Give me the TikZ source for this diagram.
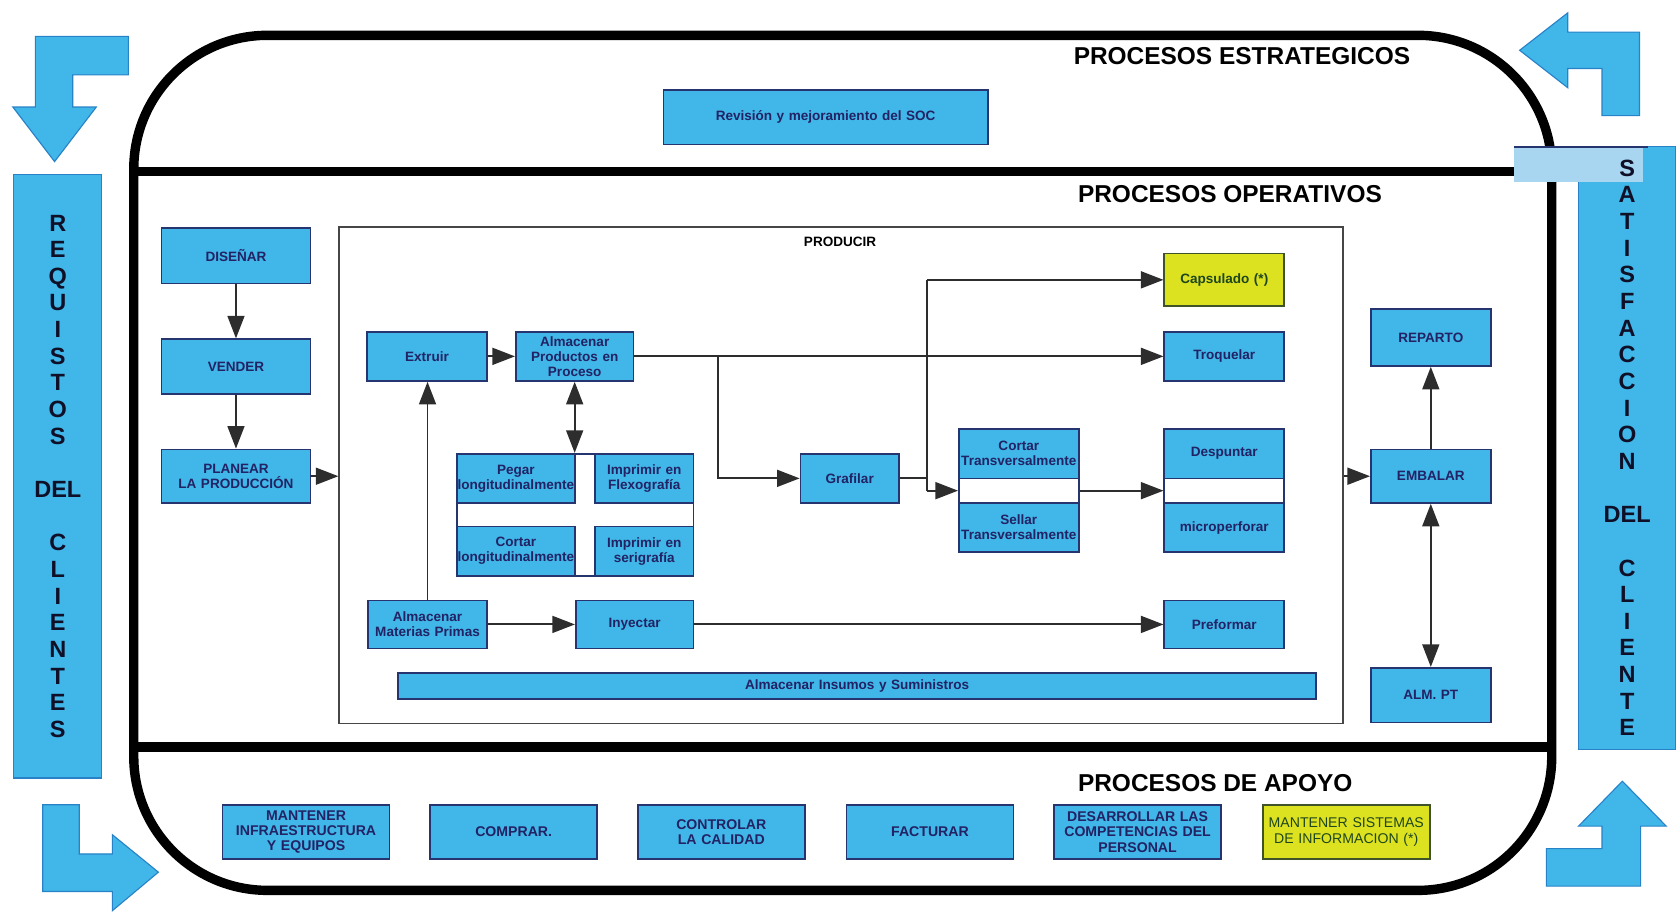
\documentclass[tikz,border=0pt]{standalone}
\usepackage{fontspec}
\setmainfont{Liberation Sans}
\usetikzlibrary{arrows.meta}

\definecolor{procblue}{RGB}{64,183,232}
\definecolor{boxline}{RGB}{38,52,112}
\definecolor{boxtext}{RGB}{34,34,100}
\definecolor{procyellow}{RGB}{221,226,32}
\definecolor{yellowline}{RGB}{62,84,40}
\definecolor{yellowtext}{RGB}{30,70,30}
\definecolor{bandblue}{RGB}{168,214,240}
\definecolor{framegray}{RGB}{70,70,70}
\definecolor{linkgray}{RGB}{45,45,45}
\definecolor{arrowedge}{RGB}{40,130,200}
\definecolor{sidetext}{RGB}{15,15,40}

\tikzset{
  x=0.02cm, y=-0.02cm,
  box/.style={draw=boxline, fill=procblue, line width=0.9pt, align=center,
    text=boxtext, font=\fontsize{7.2}{8}\selectfont\bfseries, inner ysep=0pt},
  bigbox/.style={font=\fontsize{7.5}{8.1}\selectfont\bfseries},
  yel/.style={fill=procyellow, draw=yellowline, text=yellowtext},
  stackgroup/.style={fill=white},
  prodframe/.style={fill=none, draw=framegray, line width=0.9pt},
  sidebox/.style={draw=arrowedge, line width=0.6pt, text=sidetext,
    font=\fontsize{12.5}{14.17}\selectfont\bfseries},
  sidelabel/.style={align=center, text=sidetext, inner sep=0pt,
    font=\fontsize{12.5}{14.17}\selectfont\bfseries},
  title/.style={font=\fontsize{13}{15}\selectfont\bfseries, inner sep=0pt, anchor=west},
  link/.style={draw=linkgray, line width=1pt},
  arr/.style={link, -{Triangle[length=12pt,width=9pt]}},
  dbl/.style={link, {Triangle[length=12pt,width=9pt]}-{Triangle[length=12pt,width=9pt]}},
  outline/.style={line width=5pt, line join=round},
  blockarrow/.style={fill=procblue, draw=arrowedge, line width=0.6pt},
}

% box given by its corners (x1,y1) (x2,y2) in layout units
\newcommand\procbox[7][]{%
  \pgfmathsetmacro\bw{(#5-#3)*0.02}%
  \pgfmathsetmacro\bh{(#6-#4)*0.02}%
  \pgfmathsetmacro\bt{\bw+0.6}%
  \node[box,#1,minimum width=\bw cm,minimum height=\bh cm,
        text width=\bt cm,inner xsep=-0.3cm] (#2) at ({(#3+#5)/2},{(#4+#6)/2}) {#7};}

\begin{document}
\begin{tikzpicture}
\useasboundingbox (0,0) rectangle (1568,854);

% process map outline and section dividers
\draw[outline, rounded corners=2.5cm] (125,33) rectangle (1450,832);
\draw[outline] (125,160) -- (1415,160);
\draw[outline] (125,698) -- (1450,698);

% section titles
\node[title] (tEst) at (1003,52) {PROCESOS ESTRATEGICOS};
\node[title] (tOpe) at (1007,181) {PROCESOS OPERATIVOS};
\node[title] (tApo) at (1007,732) {PROCESOS DE APOYO};

% customer columns
\procbox[sidebox]{req}{13}{163}{95}{727}{R\\E\\Q\\U\\I\\S\\T\\O\\S\\[14.2pt]DEL\\[14.2pt]C\\L\\I\\E\\N\\T\\E\\S}
\procbox[sidebox]{sat}{1475}{137}{1566}{700}{}
\fill[bandblue] (1415,137) rectangle (1535,170);
\draw[boxline, line width=1pt] (1415,137) -- (1540,137);
\node[sidelabel] (satlbl) at (sat.center) {S\\A\\T\\I\\S\\F\\A\\C\\C\\I\\O\\N\\[14.2pt]DEL\\[14.2pt]C\\L\\I\\E\\N\\T\\E};

% block arrows in the corners
\draw[blockarrow] (120,34) -- (33,34) -- (33,100) -- (12,100) -- (51,151) -- (90,100)
  -- (68,100) -- (68,70) -- (120,70) -- cycle;
\draw[blockarrow] (40,752) -- (74,752) -- (74,798) -- (105,798) -- (105,780) -- (148,815)
  -- (105,851) -- (105,833) -- (40,833) -- cycle;
\draw[blockarrow] (1532,30) -- (1532,108) -- (1497,108) -- (1497,64) -- (1465,64)
  -- (1465,82) -- (1420,47) -- (1465,12) -- (1465,30) -- cycle;
\draw[blockarrow] (1445,828) -- (1533,828) -- (1533,772) -- (1557,772) -- (1516,730)
  -- (1475,772) -- (1497,772) -- (1497,793) -- (1445,793) -- cycle;

% strategic process
\procbox{rev}{620}{84}{923}{135}{Revisión y mejoramiento del SOC}

% operative processes
\procbox{dis}{151}{213}{290}{265}{DISEÑAR}
\procbox{ven}{151}{317}{290}{368}{VENDER}
\procbox{pla}{151}{420}{290}{470}{PLANEAR\\LA PRODUCCIÓN}

\procbox[prodframe]{prod}{317}{212}{1255}{676}{}
\node[font=\fontsize{7.2}{8}\selectfont\bfseries, inner sep=0pt] (prodlbl) at (785,226) {PRODUCIR};

\procbox{ext}{343}{310}{455}{356}{Extruir}
\procbox{app}{482}{310}{592}{356}{Almacenar\\Productos en\\Proceso}
\procbox[yel]{cap}{1088}{237}{1200}{286}{Capsulado (*)}
\procbox{tro}{1088}{310}{1200}{356}{Troquelar}

\procbox[stackgroup]{grid}{427}{424}{648}{538}{}
\procbox{peg}{427}{424}{537}{470}{Pegar\\longitudinalmente}
\procbox{fle}{556}{424}{648}{470}{Imprimir en\\Flexografía}
\procbox{clo}{427}{492}{537}{538}{Cortar\\longitudinalmente}
\procbox{ser}{556}{492}{648}{538}{Imprimir en\\serigrafía}

\procbox{gra}{748}{424}{840}{470}{Grafilar}

\procbox[stackgroup]{cs}{896}{401}{1008}{516}{}
\procbox{ctr}{896}{401}{1008}{447}{Cortar\\Transversalmente}
\procbox{str}{896}{470}{1008}{516}{Sellar\\Transversalmente}

\procbox[stackgroup]{dm}{1088}{401}{1200}{516}{}
\procbox{des}{1088}{401}{1200}{447}{Despuntar}
\procbox{mic}{1088}{470}{1200}{516}{microperforar}

\procbox{amp}{344}{561}{455}{606}{Almacenar\\Materias Primas}
\procbox{iny}{538}{561}{648}{606}{Inyectar}
\procbox{pre}{1088}{561}{1200}{606}{Preformar}
\procbox{ins}{372}{629}{1230}{653}{Almacenar Insumos y Suministros}

\procbox{rep}{1281}{289}{1393}{342}{REPARTO}
\procbox{emb}{1281}{420}{1393}{470}{EMBALAR}
\procbox{apt}{1281}{624}{1393}{675}{ALM. PT}

% support processes
\procbox[bigbox]{m1}{208}{752}{364}{803}{MANTENER\\INFRAESTRUCTURA\\Y EQUIPOS}
\procbox[bigbox]{m2}{402}{752}{558}{803}{COMPRAR.}
\procbox[bigbox]{m3}{596}{752}{752}{803}{CONTROLAR\\LA CALIDAD}
\procbox[bigbox]{m4}{791}{752}{947}{803}{\raisebox{-3pt}{FACTURAR}}
\procbox[bigbox]{m5}{985}{752}{1141}{803}{DESARROLLAR LAS\\COMPETENCIAS DEL\\PERSONAL}
\procbox[bigbox,yel,font=\fontsize{7.5}{8.1}\selectfont]{m6}{1180}{752}{1336}{803}{MANTENER SISTEMAS\\DE INFORMACION (*)}

% flow connectors
\draw[arr] (dis) -- (ven);
\draw[arr] (ven) -- (pla);
\draw[arr] (pla.east) -- (prod.west |- pla.east);
\draw[arr] (ext) -- (app);
\draw[arr] (amp.north) -- (amp.north |- ext.south);
\draw[dbl] (app.south) -- (app.south |- grid.north);
\draw[arr] (app.east) -- (tro.west);
\coordinate (bra) at (671,333);
\draw[arr] (bra) |- (gra.west);
\coordinate (jtop) at (866,261.5);
\coordinate (jbot) at (866,458.5);
\draw[link] (gra.east) -- (gra.east -| jtop);
\draw[link] (jtop) -- (jbot);
\draw[arr] (jtop) -- (cap.west);
\draw[arr] (jbot) -- (cs.west);
\draw[arr] (cs.east) -- (dm.west);
\draw[arr] (amp.east) -- (iny.west);
\draw[arr] (iny.east) -- (pre.west);
\draw[arr] (prod.east |- emb.west) -- (emb.west);
\draw[arr] (emb) -- (rep);
\draw[dbl] (emb) -- (apt);
\end{tikzpicture}
\end{document}
